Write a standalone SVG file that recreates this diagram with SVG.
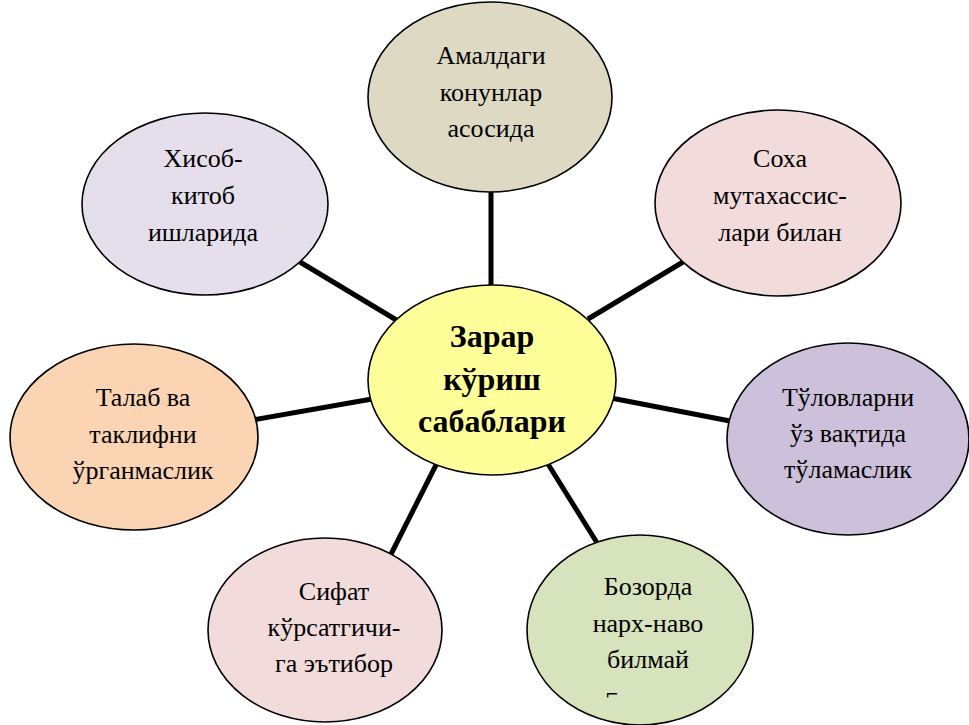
<svg xmlns="http://www.w3.org/2000/svg" width="969" height="725" viewBox="0 0 969 725">
<style>
.n{stroke:#000;stroke-width:1.6}
.t{font-family:"Liberation Serif","Times New Roman",serif;font-size:26px;fill:#000;text-anchor:middle}
.b{font-family:"Liberation Serif","Times New Roman",serif;font-size:32px;font-weight:bold;fill:#000;text-anchor:middle}
.c{stroke:#000;stroke-width:5;fill:none}
</style>
<rect width="969" height="725" fill="#fff"/>
<g id="connectors">
<line class="c" x1="491" y1="192" x2="491" y2="287"/>
<line class="c" x1="300" y1="262" x2="398" y2="321"/>
<line class="c" x1="683" y1="262" x2="588" y2="319"/>
<line class="c" x1="253" y1="420" x2="372" y2="399"/>
<line class="c" x1="611" y1="398" x2="730" y2="421"/>
<line class="c" x1="437" y1="463" x2="384" y2="568"/>
<line class="c" x1="548" y1="464" x2="599" y2="546"/>
</g>
<g id="n-top">
<ellipse class="n" cx="490" cy="97" rx="122" ry="95" fill="#DDD9C3"/>
<text class="t" x="491" y="64">Амалдаги</text>
<text class="t" x="491" y="101">конунлар</text>
<text class="t" x="491" y="137">асосида</text>
</g>
<g id="n-topleft">
<ellipse class="n" cx="205" cy="204" rx="123" ry="91" fill="#E5DFEC"/>
<text class="t" x="203" y="167">Хисоб-</text>
<text class="t" x="203" y="204">китоб</text>
<text class="t" x="203" y="241">ишларида</text>
</g>
<g id="n-topright">
<ellipse class="n" cx="778" cy="203" rx="123" ry="93" fill="#F2DBDB"/>
<text class="t" x="780" y="167">Соха</text>
<text class="t" x="780" y="204">мутахассис-</text>
<text class="t" x="780" y="241">лари билан</text>
</g>
<g id="n-left">
<ellipse class="n" cx="134" cy="437" rx="124" ry="93" fill="#FBD4B4"/>
<text class="t" x="143" y="406">Талаб ва</text>
<text class="t" x="143" y="443">таклифни</text>
<text class="t" x="143" y="479">ўрганмаслик</text>
</g>
<g id="n-right">
<ellipse class="n" cx="848" cy="439" rx="121" ry="96" fill="#CCC0DA"/>
<text class="t" x="848" y="406">Тўловларни</text>
<text class="t" x="848" y="442">ўз вақтида</text>
<text class="t" x="848" y="478">тўламаслик</text>
</g>
<g id="n-bottomleft">
<ellipse class="n" cx="325" cy="630" rx="117" ry="92" fill="#F2DBDB"/>
<text class="t" x="334" y="600">Сифат</text>
<text class="t" x="334" y="636">кўрсатгичи-</text>
<text class="t" x="334" y="672">га эътибор</text>
</g>
<g id="n-bottomright">
<ellipse class="n" cx="640" cy="630" rx="113" ry="95" fill="#D7E3BC"/>
<text class="t" x="648" y="595">Бозорда</text>
<text class="t" x="648" y="632">нарх-наво</text>
<text class="t" x="648" y="668">билмай</text>
<text class="t" x="612" y="700" style="font-family:'DejaVu Sans',sans-serif;font-size:16px">⌐</text>
</g>
<g id="n-center">
<ellipse class="n" cx="492" cy="380" rx="124" ry="95" fill="#FFFF99"/>
<text class="b" x="492" y="347">Зарар</text>
<text class="b" x="492" y="390">кўриш</text>
<text class="b" x="492" y="432">сабаблари</text>
</g>
</svg>
